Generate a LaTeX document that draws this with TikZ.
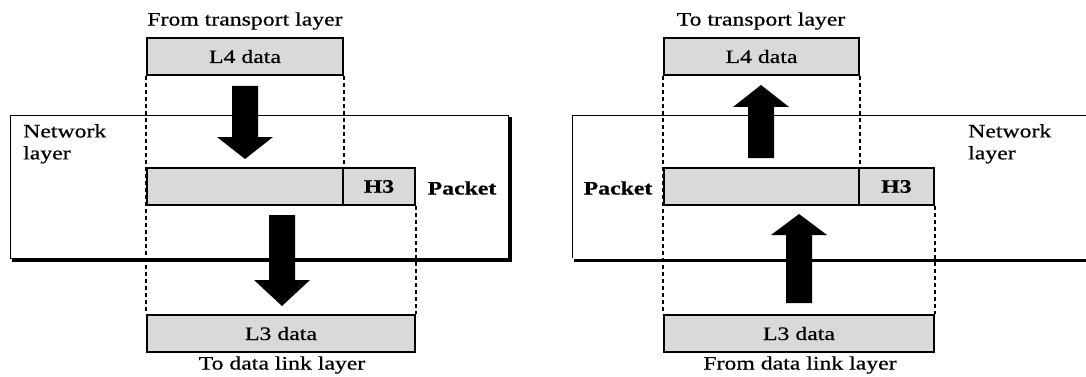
\documentclass[tikz,border=0pt]{standalone}
\usepackage{fontspec}
\setmainfont{Liberation Serif}[FakeStretch=1.25,FakeBold=0.6]
\usetikzlibrary{positioning}

% big block arrow: centre x, foot y, head base y, tip y
\newcommand{\fatarrow}[4]{%
  \fill (#1-13,#2) -- (#1+13,#2) -- (#1+13,#3) -- (#1+28,#3)
        -- (#1,#4) -- (#1-28,#3) -- (#1-13,#3) -- cycle;}

\begin{document}
\begin{tikzpicture}[x=1pt,y=-1pt,
  font=\fontsize{19}{22}\selectfont]

  \tikzset{data box/.style={rectangle, draw, line width=2pt,
  		fill=black!15, minimum height=37pt, inner sep=0pt}, }
  \tikzset{layer box/.style={line width=0.8pt}, }
  \tikzset{shadow/.style={line width=3pt}, }
  \tikzset{guide/.style={dashed, line width=1.1pt, dash pattern=on 4pt off 3pt}, }
  \tikzset{caption/.style={inner sep=0pt}, }
  \tikzset{heavy/.style={font=\fontsize{19}{22}\selectfont\bfseries}, }

\useasboundingbox (0,0) rectangle (1086,377);

%% sending side
\draw[layer box] (10,115) rectangle (508,258);
\draw[shadow] (12,260) -- (510,260) -- (510,117);
\node[caption, align=left, anchor=north west] (netL) at (23,124) {Network\\layer};

\node[caption] (fromT) at (245,21) {From transport layer};
\node[data box, minimum width=196pt] (l4L) at (245,56.5) {L4 data};
\node[data box, minimum width=196pt] (pktL) at (245,186.5) {};
\node[data box, minimum width=72pt, heavy] (h3L) at (379,186.5) {H3};
\node[caption, heavy] (packL) at (462,188) {Packet};
\node[data box, minimum width=268pt] (l3L) at (281,333.5) {L3 data};
\node[caption] (toD) at (282,365) {To data link layer};

\draw[guide] (l4L.south west) -- (l3L.north west);
\draw[guide] (l4L.south east) -- (pktL.north east);
\draw[guide] (h3L.south east) -- (l3L.north east);
\node[data box, minimum width=196pt] at (pktL) {};
\node[data box, minimum width=72pt, heavy] at (h3L) {H3};

\fatarrow{245}{86}{137}{159}
\fatarrow{282}{215}{280}{306}

%% receiving side
\draw[layer box] (1090,115) -- (572,115) -- (572,258);
\draw[shadow] (574,260) -- (1086,260);
\node[caption, align=left, anchor=north west] (netR) at (968,124) {Network\\layer};

\node[caption] (toT) at (761,21) {To transport layer};
\node[data box, minimum width=195pt] (l4R) at (761.5,56.5) {L4 data};
\node[data box, minimum width=195pt] (pktR) at (761.5,186.5) {};
\node[data box, minimum width=75pt, heavy] (h3R) at (896.5,186.5) {H3};
\node[caption, heavy] (packR) at (618,188) {Packet};
\node[data box, minimum width=270pt] (l3R) at (799,333.5) {L3 data};
\node[caption] (fromD) at (800,365) {From data link layer};

\draw[guide] (l4R.south west) -- (l3R.north west);
\draw[guide] (l4R.south east) -- (pktR.north east);
\draw[guide] (h3R.south east) -- (l3R.north east);
\node[data box, minimum width=195pt] at (pktR) {};
\node[data box, minimum width=75pt, heavy] at (h3R) {H3};

\fatarrow{761}{158}{107}{85}
\fatarrow{799}{303}{235}{214}
%%
\end{tikzpicture}
\end{document}
